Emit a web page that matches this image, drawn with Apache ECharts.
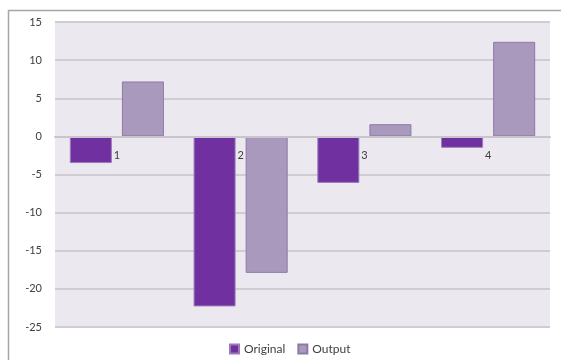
<!DOCTYPE html>
<html>
<head>
<meta charset="utf-8">
<script src="https://cdn.jsdelivr.net/npm/echarts@6/dist/echarts.min.js"></script>
<style>
  html, body { margin: 0; padding: 0; background: #ffffff; }
  #chart { width: 561px; height: 360px; }
</style>
</head>
<body>
<div id="chart"></div>
<script>
// Category names shown along the zero line
const categories = ['1', '2', '3', '4'];
// Series values
const originalValues = [-3.5, -22.3, -6.1, -1.5];
const outputValues = [7.2, -17.9, 1.6, 12.4];
// Value axis range
const yMin = -25;
const yMax = 15;
const yStep = 5;

const chart = echarts.init(document.getElementById('chart'), null, { renderer: 'canvas' });

const fontFamily = 'Lato, "Open Sans", "DejaVu Sans", sans-serif';

// Plot area placement
const gridTop = 22;
const gridBottom = 33;
const plotHeight = 360 - gridTop - gridBottom;
// Shift the category axis up so it sits on the value 0
const zeroOffset = -plotHeight * (0 - yMin) / (yMax - yMin);

chart.setOption({
  animation: false,
  backgroundColor: '#ffffff',
  textStyle: { fontFamily: fontFamily },
  graphic: [
    {
      type: 'rect',
      shape: { x: 8.5, y: 10.5, width: 620, height: 400 },
      style: { fill: 'none', stroke: '#a6a6a6', lineWidth: 1.5 },
      silent: true,
      z: -10
    }
  ],
  grid: {
    left: 55,
    right: 11,
    top: gridTop,
    bottom: gridBottom,
    show: true,
    backgroundColor: '#ebe8ef',
    borderWidth: 0
  },
  legend: {
    bottom: 0,
    left: 224,
    itemWidth: 9,
    itemHeight: 9,
    itemGap: 12,
    icon: 'rect',
    textStyle: { fontSize: 12, color: '#404040', fontFamily: fontFamily },
    data: ['Original', 'Output']
  },
  xAxis: {
    type: 'category',
    data: categories,
    position: 'bottom',
    offset: zeroOffset,
    axisLine: { onZero: false, lineStyle: { color: '#c8c6cc', width: 2 } },
    axisTick: { show: false },
    axisLabel: { color: '#404040', fontSize: 11, margin: 14, fontFamily: fontFamily },
    splitLine: { show: false },
    z: 5
  },
  yAxis: {
    type: 'value',
    min: yMin,
    max: yMax,
    interval: yStep,
    axisLine: { show: false },
    axisTick: { show: false },
    axisLabel: { color: '#404040', fontSize: 11, margin: 13, fontFamily: fontFamily },
    splitLine: { lineStyle: { color: '#cfcdd3', width: 2 } }
  },
  series: [
    {
      name: 'Original',
      type: 'bar',
      data: originalValues,
      barWidth: 42,
      barGap: '24%',
      itemStyle: { color: '#7030a0', borderColor: '#9a7ab8', borderWidth: 1 }
    },
    {
      name: 'Output',
      type: 'bar',
      data: outputValues,
      barWidth: 42,
      itemStyle: { color: '#a899bd', borderColor: '#8c7aa6', borderWidth: 1 }
    }
  ]
});
</script>
</body>
</html>
